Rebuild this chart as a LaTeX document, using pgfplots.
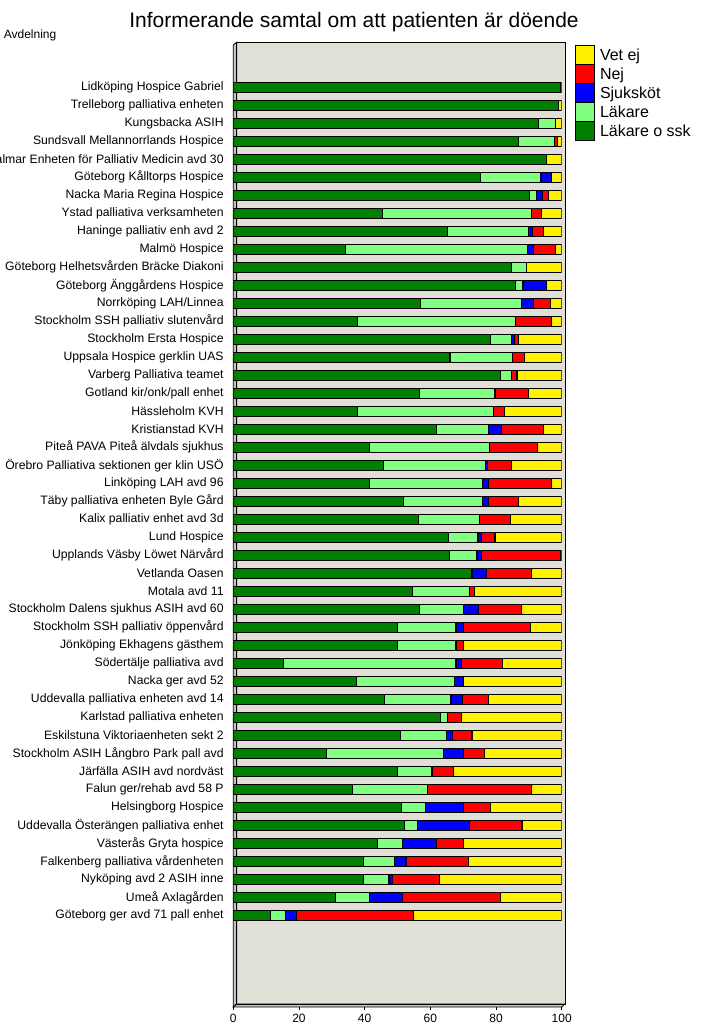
\documentclass[border=0pt]{standalone}
\usepackage{fontspec}
\setmainfont{Liberation Sans}
\usepackage{pgfplots}
\usepackage{pgfplotstable}
\pgfplotsset{compat=1.18}
\definecolor{dkgreen}{RGB}{0,128,0}
\definecolor{ltgreen}{RGB}{128,255,128}
\definecolor{bgwall}{RGB}{224,224,214}
\definecolor{sidewall}{RGB}{196,196,190}
\pgfplotsset{sqleg/.style={legend image code/.code={\draw[##1, line width=1pt] (0pt,-9.5pt) rectangle (19pt,9.5pt);}}}

\pgfplotstableread{
pos gr lg bl rd ye
47 99.6 0 0 0 0.4
46 98.9 0 0 0 1.1
45 92.9 5.2 0 0 1.9
44 86.8 10.9 0 1.1 1.2
43 95.3 0 0 0 4.7
42 75.2 18.5 3.1 0 3.2
41 90.3 2.0 1.8 1.8 4.1
40 45.3 45.4 0 3.1 6.2
39 65.1 24.8 1.2 3.3 5.6
38 34.1 55.4 1.9 6.7 1.9
37 84.7 4.5 0 0 10.8
36 86.0 2.2 7.3 0 4.5
35 57.0 30.7 3.7 5.2 3.4
34 37.7 48.2 0 10.9 3.2
33 78.2 6.6 0.7 1.3 13.2
32 66.0 18.9 0 3.7 11.4
31 81.4 3.3 0 1.7 13.6
30 56.6 23.1 0 10.2 10.1
29 37.7 41.5 0 3.3 17.5
28 61.8 16.0 3.8 12.8 5.6
27 41.4 36.5 0 14.7 7.4
26 45.8 30.9 0.7 7.3 15.3
25 41.6 34.4 1.7 19.1 3.2
24 51.8 24.0 1.9 9.1 13.2
23 56.3 18.6 0 9.5 15.6
22 65.5 9.0 1.0 4.2 20.3
21 65.8 8.4 1.3 24.2 0.3
20 72.7 0 4.4 13.6 9.3
19 54.5 17.3 0 1.6 26.6
18 56.6 13.5 4.6 13.0 12.3
17 49.9 17.9 2.2 20.4 9.6
16 49.9 17.9 0 2.2 30.0
15 15.2 52.6 1.7 12.4 18.1
14 37.4 29.9 2.7 0 30.0
13 46.0 20.3 3.4 8.0 22.3
12 63.0 2.1 0 4.4 30.5
11 50.8 14.0 1.9 6.0 27.3
10 28.4 35.6 6.0 6.4 23.6
9 49.9 10.6 0 6.5 33.0
8 36.3 22.7 0 31.7 9.3
7 51.1 7.3 11.6 8.2 21.8
6 52.1 3.9 15.9 16.0 12.1
5 43.8 7.7 10.3 8.2 30.0
4 39.6 9.4 3.6 18.9 28.5
3 39.6 7.8 1.2 14.1 37.3
2 31.1 10.5 9.9 29.9 18.6
1 11.2 4.8 3.2 35.6 45.2
}\datatable

\begin{document}
\begin{tikzpicture}[x=1pt,y=1pt]
\useasboundingbox (0,0) rectangle (705,1026);
% back wall
\fill[bgwall] (236.6,22) rectangle (565,983.7);
% left wall and floor
\filldraw[fill=sidewall, draw=black, line width=0.8pt] (233.3,19) -- (233.3,981) -- (236.6,983.7) -- (236.6,22) -- cycle;
\filldraw[fill=sidewall, draw=black, line width=0.8pt] (233.3,19) -- (561.7,19) -- (565,22) -- (236.6,22) -- cycle;
\draw[line width=0.8pt] (236.6,22) rectangle (565,983.7);
\node[anchor=base, inner sep=0pt, font=\fontsize{21}{25}\selectfont] at (354,998.7) {Informerande samtal om att patienten är döende};
\node[anchor=base west, inner sep=0pt, font=\fontsize{12}{14}\selectfont] at (3.6,987) {Avdelning};
\begin{axis}[
  at={(233.3pt,19pt)}, anchor=south west,
  width=328.4pt, height=962pt, scale only axis,
  xbar stacked, bar width=10pt,
  every axis plot post/.append style={sqleg},
  xmin=0, xmax=100, ymin=-4.09, ymax=49.35,
  ytick={1,...,47},
  yticklabels={Göteborg ger avd 71 pall enhet,Umeå Axlagården,Nyköping avd 2 ASIH inne,Falkenberg palliativa vårdenheten,Västerås Gryta hospice,Uddevalla Österängen palliativa enhet,Helsingborg Hospice,Falun ger/rehab avd 58 P,Järfälla ASIH avd nordväst,Stockholm ASIH Långbro Park pall avd,Eskilstuna Viktoriaenheten sekt 2,Karlstad palliativa enheten,Uddevalla palliativa enheten avd 14,Nacka ger avd 52,Södertälje palliativa avd,Jönköping Ekhagens gästhem,Stockholm SSH palliativ öppenvård,Stockholm Dalens sjukhus ASIH avd 60,Motala avd 11,Vetlanda Oasen,Upplands Väsby Löwet Närvård,Lund Hospice,Kalix palliativ enhet avd 3d,Täby palliativa enheten Byle Gård,Linköping LAH avd 96,Örebro Palliativa sektionen ger klin USÖ,Piteå PAVA Piteå älvdals sjukhus,Kristianstad KVH,Hässleholm KVH,Gotland kir/onk/pall enhet,Varberg Palliativa teamet,Uppsala Hospice gerklin UAS,Stockholm Ersta Hospice,Stockholm SSH palliativ slutenvård,Norrköping LAH/Linnea,Göteborg Änggårdens Hospice,Göteborg Helhetsvården Bräcke Diakoni,Malmö Hospice,Haninge palliativ enh avd 2,Ystad palliativa verksamheten,Nacka Maria Regina Hospice,Göteborg Kålltorps Hospice,Kalmar Enheten för Palliativ Medicin avd 30,Sundsvall Mellannorrlands Hospice,Kungsbacka ASIH,Trelleborg palliativa enheten,Lidköping Hospice Gabriel},
  xtick={0,20,40,60,80,100},
  axis line style={draw=none},
  tick align=outside, major tick length=3pt,
  xtick pos=left, ytick pos=left,
  ytick style={draw=none},
  xtick style={black, line width=0.8pt},
  yticklabel style={font=\fontsize{12.2}{14}\selectfont, inner sep=0pt, anchor=east, xshift=-6.5pt},
  xticklabel style={font=\fontsize{12}{14}\selectfont, inner sep=0pt, yshift=-4pt},
  /pgf/number format/assume math mode=true,
  legend style={at={(axis description cs:1.0405,1)}, anchor=north west, draw=none, fill=none, inner sep=0pt, outer sep=0pt, row sep=-1pt, column sep=5pt, font=\fontsize{16}{19}\selectfont, nodes={inner sep=0pt}},
  legend cell align=left,
  reverse legend,
]
\addplot[fill=dkgreen, draw=black, line width=1.1pt] table[x=gr, y=pos] {\datatable};
\addplot[fill=ltgreen, draw=black, line width=1.1pt] table[x=lg, y=pos] {\datatable};
\addplot[fill=blue, draw=black, line width=1.1pt] table[x=bl, y=pos] {\datatable};
\addplot[fill=red, draw=black, line width=1.1pt] table[x=rd, y=pos] {\datatable};
\addplot[fill=yellow, draw=black, line width=1.1pt] table[x=ye, y=pos] {\datatable};
\legend{Läkare o ssk,Läkare,Sjuksköt,Nej,Vet ej}
\end{axis}
\end{tikzpicture}
\end{document}
